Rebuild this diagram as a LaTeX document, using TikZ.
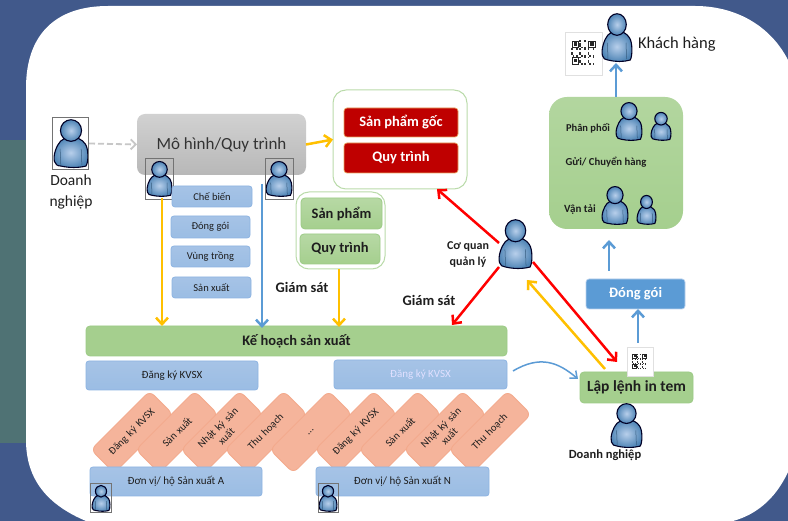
\documentclass[tikz,border=0pt]{standalone}
\usepackage{fontspec}
\setmainfont{Carlito}
\usetikzlibrary{arrows.meta,shadows,calc}
\definecolor{bgblue}{HTML}{41598B}
\definecolor{bgteal}{HTML}{4F7274}
\definecolor{bluefill}{HTML}{A6C3E6}
\definecolor{blueedge}{HTML}{8DB4E2}
\definecolor{greenfill}{HTML}{A5CF8E}
\definecolor{greenedge}{HTML}{9CCB86}
\definecolor{orangefill}{HTML}{F5B49B}
\definecolor{orangeedge}{HTML}{F3A98B}
\definecolor{arblue}{HTML}{5B9BD5}
\definecolor{aryellow}{HTML}{FFC000}
\definecolor{arred}{HTML}{FF0000}
\definecolor{txt}{HTML}{1E1E1E}
\newcommand{\tdots}{...}
\tikzset{
  x=1pt,y=-1pt,
  boxbase/.style={inner sep=0pt,outer sep=0pt,align=center,text=txt},
  blueboxs/.style={boxbase,rounded corners=3pt,top color=bluefill,bottom color=bluefill!85!arblue,draw=blueedge,line width=.8pt,font=\fontsize{10.5}{12}\selectfont},
  bluebar/.style={blueboxs,font=\fontsize{11}{13}\selectfont},
  greenbar/.style={boxbase,rounded corners=4pt,fill=greenfill,draw=greenedge,line width=.8pt,font=\fontsize{14.5}{17}\bfseries\selectfont},
  greenbox/.style={boxbase,rounded corners=4pt,top color=greenfill!80!white,bottom color=greenfill,draw=greenedge,line width=.8pt,font=\fontsize{14.5}{17}\bfseries\selectfont},
  redbox/.style={boxbase,rounded corners=3pt,fill=red!75!black,draw=orange!50!brown!70,line width=.7pt,text=white,font=\fontsize{14.5}{17}\bfseries\selectfont},
  outerbox/.style={boxbase,rounded corners=13pt,fill=white,draw=greenedge!70,line width=1pt},
  orangebox/.style={boxbase,rounded corners=6pt,fill=orangefill,draw=orangeedge,line width=.8pt,rotate=45,minimum width=83pt,minimum height=33pt,font=\fontsize{10.5}{12}\selectfont,text width=66pt},
  lbl/.style={inner sep=0pt,outer sep=0pt,align=center,text=txt,font=\fontsize{11}{14}\bfseries\selectfont},
  gslbl/.style={lbl,font=\fontsize{14.5}{17}\bfseries\selectfont},
  frameb/.style={draw=black!55,line width=.7pt},
  qrcard/.style={fill=white,draw=black!12,line width=.5pt,drop shadow={shadow xshift=.8pt,shadow yshift=-1.2pt,opacity=.4}},
  arr/.style={line width=2.5pt,-{Straight Barb[length=6.5pt,width=12pt,line width=2.5pt]}},
  yarr/.style={arr,color=aryellow},
  barr/.style={arr,color=arblue},
  rarr/.style={arr,color=arred},
}
% \bx[style]{name}{x1}{y1}{x2}{y2}{text}
\newcommand{\bx}[7][]{\node[#1,minimum width={(#5)-(#3)},minimum height={(#6)-(#4)}] (#2) at ({((#3)+(#5))/2},{((#4)+(#6))/2}) {#7};}
% \personfig{x1}{y1}{x2}{y2}
\newcommand{\personfig}[4]{%
 \pgfmathsetmacro{\pw}{(#3)-(#1)}\pgfmathsetmacro{\ph}{(#2)-(#4)}%
 \begin{scope}[shift={(#1,#2)},x={\pw pt},y={\ph pt}]
  \path[draw=black!85!blue,line width=1.1pt,inner color=bluefill!80!white,outer color=arblue!85!black]
   (.5,.38) .. controls (.22,.38) and (.12,.50) .. (.04,.66)
   .. controls (-.04,.84) and (.0,.98) .. (.2,.98)
   .. controls (.45,1.02) and (.72,1.02) .. (.94,.98)
   .. controls (1.02,.9) and (1.02,.62) .. (.92,.52)
   .. controls (.82,.42) and (.68,.38) .. (.5,.38) -- cycle;
  \path[draw=black!85!blue,line width=1.1pt,inner color=bluefill!80!white,outer color=arblue!85!black]
   (.5,.24) ellipse [x radius=.31,y radius=.225];
  \draw[arblue!60!black,line width=.5pt] (.18,.62) -- (.2,.96) (.8,.62) -- (.82,.96);
 \end{scope}}
% QR pattern \qrcode{x1}{y1}{size}
\newcommand{\qrcode}[3]{%
 \pgfmathsetmacro{\qw}{(#3)/15}\pgfmathsetmacro{\qh}{-(#3)/15}%
 \begin{scope}[shift={(#1,#2)},x={\qw pt},y={\qh pt}]
  \foreach \i in {0,...,14}{\foreach \j in {0,...,14}{%
    \pgfmathparse{int(mod(\i*\i*\j+\j*\j*\i*2+\i*7+\j*11+\j*\j*\j,5))}%
    \ifnum\pgfmathresult<2 \fill[black!80] (\i,\j) rectangle +(1,1);\fi}}
  \foreach \a/\b in {0/0,10/0,0/10}{%
    \fill[white] (\a,\b) rectangle +(5,5);
    \draw[black!85,line width=.6pt] (\a+.5,\b+.5) rectangle +(4,4);
    \fill[black!85] (\a+1.5,\b+1.5) rectangle +(2,2);}
 \end{scope}}
\begin{document}
\begin{tikzpicture}
\useasboundingbox (0,0) rectangle (788,521);
\clip (0,0) rectangle (788,521);
% background
\fill[bgblue] (0,0) rectangle (788,521);
\fill[bgteal] (0,140) rectangle (60,443);
\fill[white] (26,88) .. controls (26,35) and (55,6) .. (108,6)
  -- (695,6) .. controls (735,6) and (770,25) .. (788,60)
  -- (788,472) .. controls (775,500) and (755,515) .. (733,521)
  -- (86,521) .. controls (48,505) and (26,480) .. (26,440) -- cycle;

% top left
\personfig{54}{119}{88}{167}
\draw[frameb] (52,117) rectangle (88,169);
\coordinate (dnframe) at (89,143.5);
\node[lbl,font=\fontsize{15.5}{21}\selectfont] (dnlabel) at (71,192) {Doanh\\nghiệp};
\bx[boxbase,rounded corners=8pt,top color=black!18,bottom color=black!28,font=\fontsize{17}{20}\selectfont,text=black!80]{model}{137}{114}{306}{175}{Mô hình/Quy trình}
\draw[black!22,line width=1.8pt,dash pattern=on 6pt off 3pt,-{Straight Barb[length=5pt,width=10pt,line width=1.8pt]}] (dnframe) -- (model.west);

% small persons on model
\personfig{147}{161}{172}{196}
\draw[frameb] (145,158) rectangle (173,199);
\personfig{266}{161}{292}{196}
\draw[frameb] (265,158) rectangle (293,199);
\coordinate (yfrom) at (162,198);
\coordinate (bfrom) at (262,184);

% process boxes
\bx[blueboxs]{b1}{172}{186}{252}{207}{Chế biến}
\bx[blueboxs]{b2}{171}{216}{250}{238}{Đóng gói}
\bx[blueboxs]{b3}{171}{246}{250}{267}{Vùng trồng}
\bx[blueboxs]{b4}{172}{277}{251}{298}{Sản xuất}

% origin product
\bx[outerbox]{origin}{333}{90}{467}{189}{}
\bx[redbox]{r1}{344}{108}{458}{137}{Sản phẩm gốc}
\bx[redbox]{r2}{344}{143}{458}{173}{Quy trình}
\draw[yarr] (model.east) -- (origin.west);

% product
\bx[outerbox]{prod}{296}{192}{385}{269}{}
\bx[greenbox]{g1}{301}{198}{382}{229}{Sản phẩm}
\bx[greenbox]{g2}{300}{234}{380}{264}{Quy trình}

% plan
\bx[greenbar]{plan}{86}{326}{507}{356}{Kế hoạch sản xuất}
\coordinate (planY1) at (162,326);
\coordinate (planB) at (262,328);
\coordinate (planY2) at (339,327);
\coordinate (planR) at (452,325);
\coordinate (prodS) at (339,269);
\draw[yarr] (yfrom) -- (planY1);
\draw[barr] (bfrom) -- (planB);
\draw[yarr] (prodS) -- (planY2);
\node[gslbl] (gs1) at (302,287) {Giám sát};
\node[gslbl] (gs2) at (429,300) {Giám sát};

% orange
\foreach \n/\cx/\t in {o1/132/Đăng ký KVSX,o2/177/Sản xuất,o3/222/{Nhật ký sản\\xuất},o4/266/Thu hoạch,o5/311/\tdots,o6/356/Đăng ký KVSX,o7/400/Sản xuất,o8/445/{Nhật ký sản\\xuất},o9/490/Thu hoạch}{
  \node[orangebox] (\n) at (\cx,432) {\t};
}
\bx[bluebar]{k1}{86}{361}{258}{390}{Đăng ký KVSX}
\bx[bluebar,text=white!88!blue]{k2}{334}{360}{507}{389}{Đăng ký KVSX}
\bx[bluebar]{u1}{90}{467}{262}{496}{Đơn vị/ hộ Sản xuất A}
\bx[bluebar]{u2}{316}{467}{489}{496}{Đơn vị/ hộ Sản xuất N}
\personfig{92}{485}{110}{511}
\draw[frameb] (90,483) rectangle (111,512);
\personfig{319}{485}{337}{511}
\draw[frameb] (318,483) rectangle (338,512);

% agency
\personfig{499}{219}{532}{268}
\node[lbl,font=\fontsize{12}{16}\bfseries\selectfont] (agency) at (468,255) {Cơ quan\\quản lý};
\coordinate (ag1) at (499,243);
\coordinate (ag2) at (499,267);
\coordinate (ag3) at (533,262);
\coordinate (ag4) at (527,280);
\coordinate (orP) at (437,189);
\draw[rarr] (ag1) -- (orP);
\draw[rarr] (ag2) -- (planR);

% right column
\bx[greenbar,font=\fontsize{15.5}{18}\bfseries\selectfont]{print}{580}{372}{693}{403}{Lập lệnh in tem}
\coordinate (prR) at (617,362);
\coordinate (prY) at (605,369);
\coordinate (prC) at (578,379);
\coordinate (prT) at (638,343);
\draw[rarr] (ag3) -- (prR);
\draw[yarr] (prY) -- (ag4);
\coordinate (k2e) at (513,371);
\draw[arblue,line width=1.5pt,-{Straight Barb[length=6pt,width=10pt,line width=1.5pt]}] (k2e) .. controls (540,355) and (558,362) .. (prC);
\bx[boxbase,qrcard]{qr1}{627}{347}{653}{376}{}
\qrcode{632}{354}{15}
\personfig{611}{403}{642}{447}
\node[lbl,font=\fontsize{12.5}{15}\bfseries\selectfont] (dn2) at (605,455) {Doanh nghiệp};

\bx[boxbase,rounded corners=3pt,fill=arblue,draw=blueedge!60,line width=.7pt,text=white,font=\fontsize{14.5}{17}\bfseries\selectfont]{pack}{586}{279}{685}{309}{Đóng gói}
\draw[barr] (prT) -- (prT |- pack.south);
\bx[boxbase,rounded corners=18pt,top color=greenfill!85!white,bottom color=greenfill]{ship}{549}{97}{683}{229}{}
\coordinate (packUp) at (609,271);
\coordinate (shipIn) at (609,240);
\draw[barr] (packUp) -- (shipIn);
\node[lbl,font=\fontsize{10.5}{13}\bfseries\selectfont] (l1) at (588,128) {Phân phối};
\node[lbl,font=\fontsize{10.7}{13}\bfseries\selectfont] (l2) at (606,162) {Gửi/ Chuyển hàng};
\node[lbl] (l3) at (580,210) {Vận tải};
\personfig{616}{102}{642}{140}
\personfig{651}{112}{671}{140}
\personfig{602}{186}{628}{224}
\personfig{637}{195}{656}{224}

% customer
\bx[boxbase,qrcard]{qr2}{565}{32}{602}{75}{}
\qrcode{571}{40}{25}
\personfig{602}{13}{632}{61}
\coordinate (custB) at (616,63);
\draw[barr] (custB |- ship.north) -- (custB);
\node[lbl,font=\fontsize{16.5}{20}\selectfont,anchor=west] (cust) at (638,44) {Khách hàng};
\end{tikzpicture}
\end{document}
